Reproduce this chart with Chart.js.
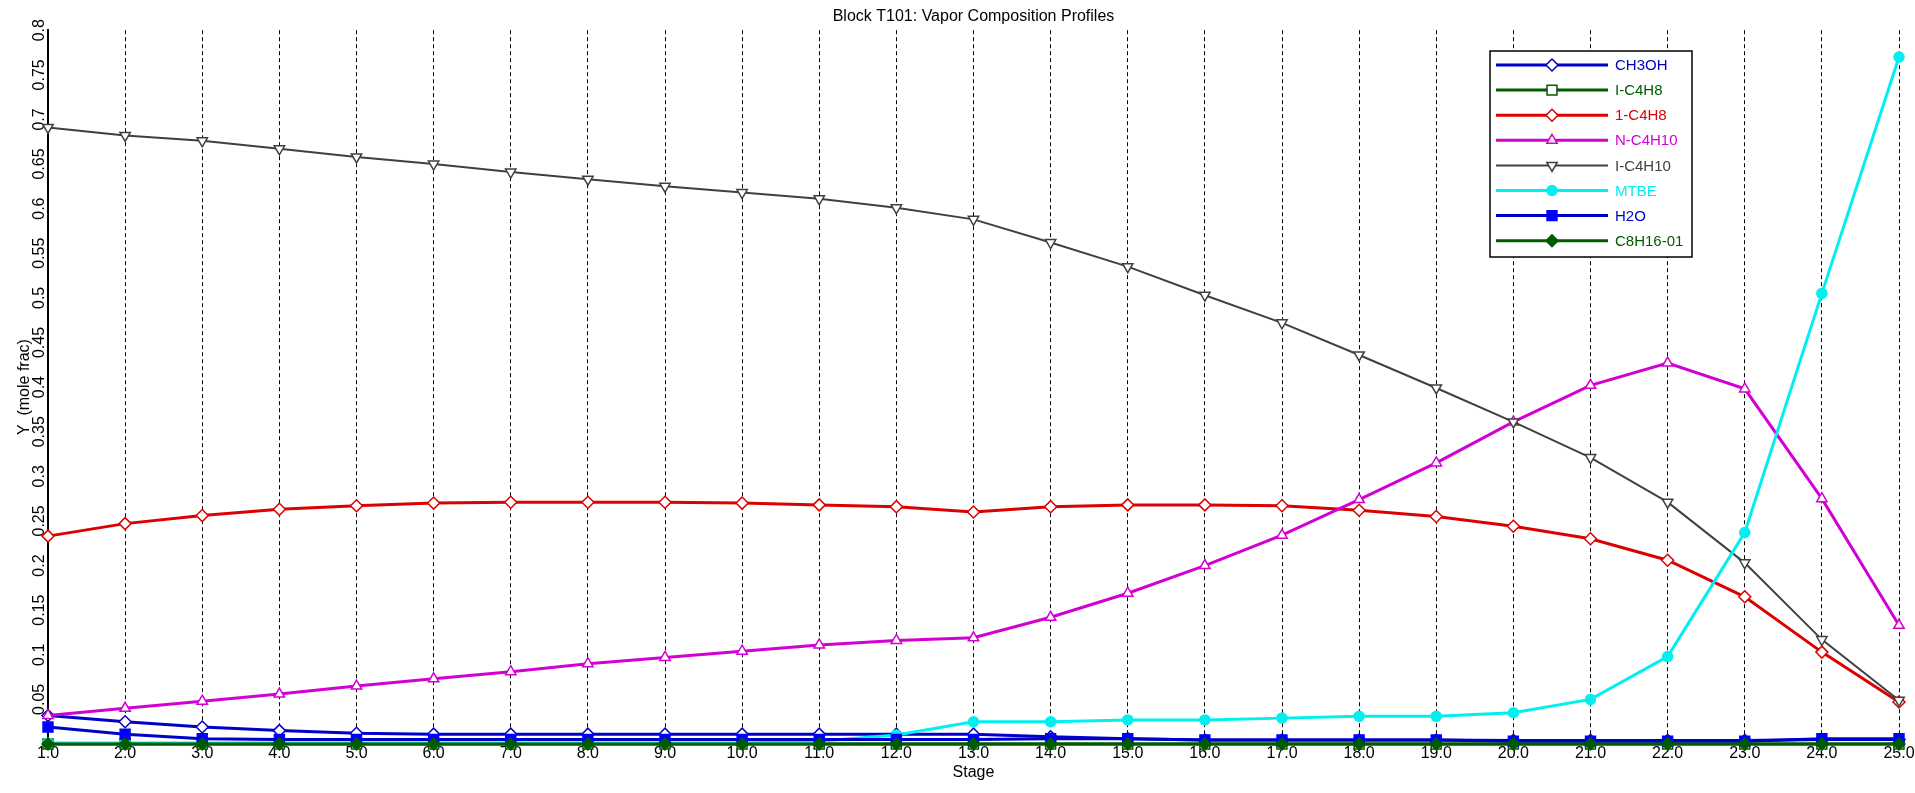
<!DOCTYPE html>
<html>
<head>
<meta charset="utf-8">
<script src="https://cdn.jsdelivr.net/npm/chart.js@4/dist/chart.umd.min.js"></script>
<style>
  html, body { margin: 0; padding: 0; background: #fff; }
  #wrap { width: 1915px; height: 793px; }
</style>
</head>
<body>
<div id="wrap"><canvas id="profileChart" width="1915" height="793"></canvas></div>
<script>
// Tahap kolom (stage)
const stages = [1, 2, 3, 4, 5, 6, 7, 8, 9, 10, 11, 12, 13, 14, 15, 16, 17, 18, 19, 20, 21, 22, 23, 24, 25];

// Nama komponen
const komponen = ["CH3OH", "I-C4H8", "1-C4H8", "N-C4H10", "I-C4H10", "MTBE", "H2O", "C8H16-01"];

// Fraksi mol uap per tahap
const yCH3OH = [0.032, 0.025, 0.019, 0.015, 0.012, 0.011, 0.011, 0.011, 0.011, 0.011, 0.011, 0.011, 0.011, 0.008, 0.006, 0.0045, 0.0045, 0.0045, 0.0045, 0.004, 0.004, 0.004, 0.004, 0.005, 0.005];
const yIC4H8 = [0, 0, 0, 0, 0, 0, 0, 0, 0, 0, 0, 0, 0, 0, 0, 0, 0, 0, 0, 0, 0, 0, 0, 0, 0];
const y1C4H8 = [0.233, 0.247, 0.256, 0.263, 0.267, 0.27, 0.271, 0.271, 0.271, 0.27, 0.268, 0.266, 0.26, 0.266, 0.268, 0.268, 0.267, 0.262, 0.255, 0.244, 0.23, 0.206, 0.165, 0.103, 0.047];
const yNC4H10 = [0.032, 0.04, 0.048, 0.056, 0.065, 0.073, 0.081, 0.09, 0.097, 0.104, 0.111, 0.116, 0.119, 0.142, 0.169, 0.2, 0.234, 0.274, 0.315, 0.361, 0.402, 0.427, 0.398, 0.275, 0.133];
const yIC4H10 = [0.691, 0.682, 0.676, 0.667, 0.658, 0.65, 0.641, 0.633, 0.625, 0.618, 0.611, 0.601, 0.588, 0.562, 0.535, 0.503, 0.472, 0.436, 0.399, 0.361, 0.321, 0.271, 0.203, 0.117, 0.049];
const yMTBE = [0.001, 0.001, 0.001, 0.001, 0.001, 0.001, 0.001, 0.001, 0.001, 0.001, 0.003, 0.01, 0.025, 0.025, 0.027, 0.027, 0.029, 0.031, 0.031, 0.035, 0.05, 0.098, 0.237, 0.505, 0.77];
const yH2O = [0.019, 0.011, 0.006, 0.005, 0.005, 0.005, 0.005, 0.005, 0.005, 0.005, 0.005, 0.005, 0.005, 0.006, 0.006, 0.0045, 0.0045, 0.0045, 0.0045, 0.003, 0.003, 0.003, 0.003, 0.006, 0.006];
const yC8H16 = [0, 0, 0, 0, 0, 0, 0, 0, 0, 0, 0, 0, 0, 0, 0, 0, 0, 0, 0, 0, 0, 0, 0, 0, 0];

// Label sumbu
const labelStage = stages.map((s) => s.toFixed(1));

const FONT = "Arial, 'Liberation Sans', sans-serif";

// Gaya tiap seri (warna, marker)
function seri(label, data, warna, style, isi, radius, extra) {
  return Object.assign({
    label: label,
    data: data,
    borderColor: warna,
    backgroundColor: warna,
    borderWidth: 3,
    pointStyle: style,
    pointRadius: radius,
    pointHoverRadius: radius,
    pointBackgroundColor: isi,
    pointBorderColor: warna,
    pointBorderWidth: 1.5,
    tension: 0,
    clip: false,
  }, extra || {});
}

const datasets = [
  seri(komponen[0], yCH3OH, "#0000C8", "rectRot", "#ffffff", 6),
  seri(komponen[1], yIC4H8, "#005A00", "rect", "#ffffff", 7),
  seri(komponen[2], y1C4H8, "#DC0000", "rectRot", "#ffffff", 6),
  seri(komponen[3], yNC4H10, "#D200D2", "triangle", "#ffffff", 6),
  seri(komponen[4], yIC4H10, "#404040", "triangle", "#ffffff", 6, { borderWidth: 2, pointRotation: 180 }),
  seri(komponen[5], yMTBE, "#00F0F0", "circle", "#00F0F0", 5),
  seri(komponen[6], yH2O, "#0000C8", "rect", "#0000FF", 7, { pointBorderColor: "#0000FF" }),
  seri(komponen[7], yC8H16, "#005A00", "rectRot", "#005A00", 6),
];
// seri yang belakangan digambar di atas
datasets.forEach((d, i) => { d.order = datasets.length - i; });

// Legenda di dalam area plot (pojok kanan atas)
const legendaKotak = {
  id: "legendaKotak",
  afterDatasetsDraw(chart) {
    const ctx = chart.ctx;
    const x0 = 1490, y0 = 51, w = 202, h = 206;
    ctx.save();
    ctx.fillStyle = "#ffffff";
    ctx.fillRect(x0, y0, w, h);
    ctx.strokeStyle = "#000000";
    ctx.lineWidth = 1.5;
    ctx.strokeRect(x0, y0, w, h);
    ctx.font = "15px " + FONT;
    ctx.textBaseline = "middle";
    ctx.textAlign = "left";
    chart.data.datasets.forEach((d, i) => {
      const yy = 65 + i * 25.1;
      ctx.strokeStyle = d.borderColor;
      ctx.lineWidth = d.borderWidth;
      ctx.beginPath();
      ctx.moveTo(1496, yy);
      ctx.lineTo(1608, yy);
      ctx.stroke();
      ctx.fillStyle = d.pointBackgroundColor;
      ctx.strokeStyle = d.pointBorderColor;
      ctx.lineWidth = d.pointBorderWidth;
      Chart.helpers.drawPoint(ctx, {
        pointStyle: d.pointStyle,
        rotation: d.pointRotation || 0,
        radius: d.pointRadius,
        borderWidth: d.pointBorderWidth,
      }, 1552, yy);
      ctx.fillStyle = d.borderColor === "#0000C8" && i === 0 ? "#0000C8" : d.borderColor;
      ctx.fillText(d.label, 1615, yy + 1);
    });
    ctx.restore();
  },
};

const ctx = document.getElementById("profileChart").getContext("2d");
new Chart(ctx, {
  type: "line",
  data: {
    labels: labelStage,
    datasets: datasets,
  },
  options: {
    responsive: false,
    animation: false,
    events: [],
    layout: { padding: { left: 0, right: 16, top: 0, bottom: 0 } },
    plugins: {
      legend: { display: false },
      tooltip: { enabled: false },
      title: {
        display: true,
        text: "Block T101: Vapor Composition Profiles",
        color: "#000000",
        fullSize: false,
        font: { family: FONT, size: 16, weight: "normal" },
        padding: { top: 7, bottom: 4 },
      },
    },
    scales: {
      x: {
        type: "category",
        offset: false,
        afterFit(scale) { scale.height = 49; },
        grid: {
          display: true,
          drawTicks: false,
          color: "#000000",
          lineWidth: 1,
          tickBorderDash: [4, 3],
        },
        border: { display: true, color: "#000000", width: 2, dash: [4, 3] },
        ticks: {
          color: "#000000",
          font: { family: FONT, size: 16 },
          padding: 0,
          maxRotation: 0,
          autoSkip: false,
        },
        title: {
          display: true,
          text: "Stage",
          color: "#000000",
          font: { family: FONT, size: 16 },
          padding: { top: 0, bottom: 11 },
        },
      },
      y: {
        min: 0,
        max: 0.8,
        afterFit(scale) { scale.width = 48; },
        grid: { display: false, drawTicks: false },
        border: { display: true, color: "#000000", width: 2 },
        ticks: {
          stepSize: 0.05,
          autoSkip: false,
          minRotation: 90,
          maxRotation: 90,
          crossAlign: "center",
          padding: -7,
          color: "#000000",
          font: { family: FONT, size: 16 },
          callback: (v) => (v === 0 ? "" : String(Number(v.toFixed(2)))),
        },
        title: {
          display: true,
          text: "Y  (mole frac)",
          color: "#000000",
          font: { family: FONT, size: 16 },
          padding: { top: 15, bottom: 0 },
        },
      },
    },
  },
  plugins: [legendaKotak],
});
</script>
</body>
</html>
